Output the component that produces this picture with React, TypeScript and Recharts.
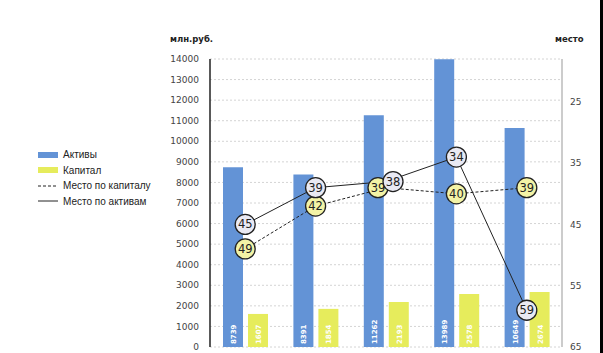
import { ComposedChart, Bar, Line, XAxis, YAxis, CartesianGrid, LabelList } from 'recharts'

const years = ['1', '2', '3', '4', '5']
const assets = [8739, 8391, 11262, 13989, 10649]
const capital = [1607, 1854, 2193, 2578, 2674]
const rankCapital = [49, 42, 39, 40, 39]
const rankAssets = [45, 39, 38, 34, 59]
const leftTicks = [0, 1000, 2000, 3000, 4000, 5000, 6000, 7000, 8000, 9000, 10000, 11000, 12000, 13000, 14000]
const rightTicks = [25, 35, 45, 55, 65]

const data = years.map((y, i) => ({
  name: y,
  assets: assets[i],
  capital: capital[i],
  rankCapital: rankCapital[i],
  rankAssets: rankAssets[i],
}))

const BLUE = '#6393d6'
const YELLOW = '#e6ec5c'
const FONT = '"DejaVu Sans", sans-serif'

function BarValue(props: any) {
  const { x, y, width, height, value } = props
  const cx = x + width / 2 + 3
  const by = y + height - 3
  return (
    <text x={cx} y={by} transform={`rotate(-90 ${cx} ${by})`} fill="#fff" fontSize={7} fontFamily={FONT} fontWeight="bold">
      {value}
    </text>
  )
}

function rankDot(fill: string, shift: number) {
  return (props: any) => {
    const { cx, cy, index, value } = props
    const dx = index === 2 ? shift : 0
    return (
      <g key={`d${index}`}>
        <circle cx={cx + dx} cy={cy} r={10} fill={fill} stroke="#222" strokeWidth={1.3} />
        <text x={cx + dx} y={cy + 4} textAnchor="middle" fontSize={11.5} fontFamily={FONT} fill="#222">
          {value}
        </text>
      </g>
    )
  }
}

function LegendBox() {
  const row = { display: 'flex', alignItems: 'center', height: 15.5 }
  const txt = { fontSize: 10, color: '#222', marginLeft: 5, fontFamily: '"Liberation Sans", Arial, sans-serif' }
  return (
    <div style={{ position: 'absolute', left: 38, top: 147 }}>
      <div style={row}><div style={{ width: 20, height: 6, background: BLUE }} /><span style={txt}>Активы</span></div>
      <div style={row}><div style={{ width: 20, height: 6, background: YELLOW }} /><span style={txt}>Капитал</span></div>
      <div style={row}><svg width={20} height={4}><line x1={0} y1={2} x2={20} y2={2} stroke="#222" strokeDasharray="3 2" /></svg><span style={txt}>Место по капиталу</span></div>
      <div style={row}><svg width={20} height={4}><line x1={0} y1={2} x2={20} y2={2} stroke="#222" /></svg><span style={txt}>Место по активам</span></div>
    </div>
  )
}

export default function App() {
  return (
    <div style={{ position: 'absolute', left: 0, top: 0, width: 603, height: 353, background: '#fff', fontFamily: FONT }}>
      <div style={{ position: 'absolute', left: 170, top: 34, fontSize: 8.5, fontWeight: 'bold', color: '#222' }}>млн.руб.</div>
      <div style={{ position: 'absolute', left: 555, top: 34, fontSize: 8.5, fontWeight: 'bold', color: '#222' }}>место</div>
      <div style={{ position: 'absolute', right: 0, top: 0, width: 3, height: 353, background: '#000' }} />
      <LegendBox />
      <ComposedChart width={603} height={353} data={data} margin={{ top: 59, right: 0, bottom: 6, left: 0 }} barCategoryGap="18%" barGap={5}>
        <CartesianGrid vertical={false} stroke="#d4d4d4" strokeDasharray="2 2" yAxisId="left" />
        <XAxis dataKey="name" tick={false} height={0} axisLine={{ stroke: '#222' }} tickLine={false} />
        <YAxis
          yAxisId="left"
          width={210}
          domain={[0, 14000]}
          ticks={leftTicks}
          interval={0}
          tickLine={false}
          axisLine={{ stroke: '#222', strokeWidth: 1.5 }}
          tickMargin={5}
          tick={{ fontSize: 9, fill: '#444', fontFamily: FONT }}
        />
        <YAxis
          yAxisId="right"
          orientation="right"
          width={41}
          reversed
          domain={[18, 65]}
          ticks={rightTicks}
          interval={0}
          tickLine={false}
          axisLine={{ stroke: '#999' }}
          tickMargin={2}
          tick={{ fontSize: 9, fill: '#444', fontFamily: FONT }}
        />
        <Bar yAxisId="left" dataKey="assets" fill={BLUE} barSize={20} isAnimationActive={false}>
          <LabelList dataKey="assets" content={<BarValue />} />
        </Bar>
        <Bar yAxisId="left" dataKey="capital" fill={YELLOW} barSize={20} isAnimationActive={false}>
          <LabelList dataKey="capital" content={<BarValue />} />
        </Bar>
        <Line yAxisId="right" dataKey="rankCapital" stroke="#222" strokeWidth={1} strokeDasharray="3 2" dot={rankDot('#f3f3a6', -8)} isAnimationActive={false} />
        <Line yAxisId="right" dataKey="rankAssets" stroke="#222" strokeWidth={1} dot={rankDot('#e9e9f3', 7)} isAnimationActive={false} />
      </ComposedChart>
    </div>
  )
}
